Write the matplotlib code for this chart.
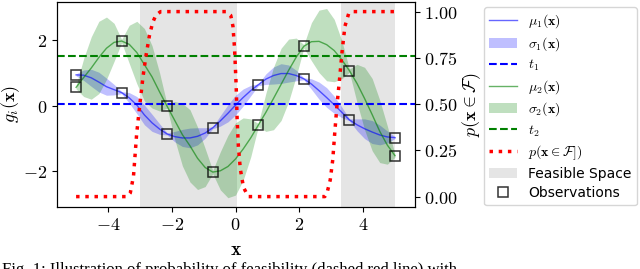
import numpy as np
import matplotlib
matplotlib.use("Agg")
import matplotlib.pyplot as plt
from matplotlib.ticker import FormatStrFormatter

plt.rcParams['mathtext.fontset'] = 'cm'

##############################################################################
# Data
##############################################################################

# sample grid (7 steps between two observations)
x = np.linspace(-5, 5, 43)

mu1 = [0.94, 0.93, 0.85, 0.72, 0.58, 0.49, 0.40,
       0.24, 0.02, -0.28, -0.52, -0.71, -0.86,
       -0.94, -0.98, -0.98, -0.93, -0.83, -0.67,
       -0.46, -0.23, 0.02, 0.25, 0.46, 0.64,
       0.81, 0.92, 0.98, 0.98, 0.92, 0.82,
       0.66, 0.46, 0.25, 0.03, -0.20, -0.43,
       -0.58, -0.70, -0.80, -0.89, -0.95, -0.97]
hw1 = [0.03, 0.16, 0.26, 0.30, 0.26, 0.16,
       0.03, 0.16, 0.26, 0.30, 0.26, 0.16,
       0.03, 0.16, 0.26, 0.30, 0.26, 0.16,
       0.03, 0.16, 0.26, 0.30, 0.26, 0.16,
       0.03, 0.16, 0.26, 0.30, 0.26, 0.16,
       0.03, 0.16, 0.26, 0.30, 0.26, 0.16,
       0.03, 0.18, 0.30, 0.35, 0.30, 0.18, 0.03]

mu2 = [0.56, 0.86, 1.15, 1.47, 1.75, 1.93, 1.97,
       1.87, 1.62, 1.25, 0.88, 0.42, -0.02,
       -0.45, -0.88, -1.22, -1.60, -1.88, -2.02,
       -1.98, -1.85, -1.62, -1.32, -0.98, -0.59,
       -0.20, 0.22, 0.65, 1.08, 1.48, 1.81,
       1.95, 1.96, 1.86, 1.68, 1.40, 1.07,
       0.68, 0.22, -0.27, -0.78, -1.20, -1.52]
hw2 = [0.05, 0.58, 0.95, 1.10, 0.95, 0.58,
       0.05, 0.58, 0.95, 1.10, 0.95, 0.58,
       0.05, 0.58, 0.95, 1.10, 0.95, 0.58,
       0.05, 0.58, 0.95, 1.10, 0.95, 0.58,
       0.05, 0.58, 0.95, 1.10, 0.95, 0.58,
       0.05, 0.58, 0.95, 1.10, 0.95, 0.58,
       0.05, 0.58, 0.95, 1.10, 0.95, 0.58, 0.05]

t1 = 0.05
t2 = 1.5

x_obs = [-5.0, -3.571, -2.143, -0.714, 0.714, 2.143, 3.571, 5.0]
g1_obs = [0.94, 0.40, -0.86, -0.67, 0.64, 0.82, -0.43, -0.97]
g2_obs = [0.56, 1.97, -0.02, -2.02, -0.59, 1.81, 1.07, -1.52]

# probability of feasibility
p_x = [-5.0, -3.4, -3.3, -3.2, -3.1, -3.0, -2.9, -2.8, -2.7, -2.6, -2.5, -2.35,
       -0.3, -0.15, -0.08, -0.03, 0.02, 0.05, 0.09, 0.15, 0.25, 0.4,
       2.8, 2.87, 2.97, 3.05, 3.11, 3.18, 3.26, 3.34, 3.43, 3.55, 3.7, 5.0]
p_y = [0.0, 0.0, 0.02, 0.11, 0.34, 0.5, 0.65, 0.77, 0.87, 0.94, 0.98, 1.0,
       1.0, 0.98, 0.92, 0.8, 0.6, 0.42, 0.27, 0.15, 0.05, 0.0,
       0.0, 0.02, 0.09, 0.2, 0.34, 0.49, 0.63, 0.78, 0.92, 0.99, 1.0, 1.0]

feasible = [(-3.0, 0.05), (3.3, 5.0)]

##############################################################################
# Plot
##############################################################################

fig, ax1 = plt.subplots(figsize=(6.4, 2.69), dpi=100)
fig.subplots_adjust(left=0.089, right=0.648, bottom=0.232, top=0.994)
ax2 = ax1.twinx()

mu1 = np.array(mu1)
mu2 = np.array(mu2)
hw1 = np.array(hw1)
hw2 = np.array(hw2)

for i, (a, b) in enumerate(feasible):
    h_feas = ax1.axvspan(a, b, color='grey', alpha=0.2, lw=0,
                         label="Feasible Space" if i == 0 else None)

h_mu1, = ax1.plot(x, mu1, color='blue', alpha=0.6, lw=1)
h_s1 = ax1.fill_between(x, mu1 - hw1, mu1 + hw1, color='blue', alpha=0.25, lw=0)
h_t1 = ax1.axhline(t1, color='blue', ls='--', lw=1.5)
h_mu2, = ax1.plot(x, mu2, color='green', alpha=0.6, lw=1)
h_s2 = ax1.fill_between(x, mu2 - hw2, mu2 + hw2, color='green', alpha=0.25, lw=0)
h_t2 = ax1.axhline(t2, color='green', ls='--', lw=1.5)

h_obs, = ax1.plot(x_obs, g1_obs, 's', mfc='none', mec='k', mew=1.1, ms=7, alpha=0.8)
ax1.plot(x_obs, g2_obs, 's', mfc='none', mec='k', mew=1.1, ms=7, alpha=0.8)

h_p, = ax2.plot(p_x, p_y, color='red', ls=':', lw=2.5)

ax1.set_xlim(-5.6, 5.62)
ax1.set_ylim(-3.07, 3.17)
ax2.set_ylim(-0.054, 1.054)
ax1.set_xticks([-4, -2, 0, 2, 4])
ax1.set_yticks([-2, 0, 2])
ax2.set_yticks([0, 0.25, 0.5, 0.75, 1.0])
ax1.xaxis.set_major_formatter(FormatStrFormatter('$%g$'))
ax1.yaxis.set_major_formatter(FormatStrFormatter('$%g$'))
ax2.yaxis.set_major_formatter(FormatStrFormatter('$%.2f$'))
ax1.tick_params(labelsize=13)
ax2.tick_params(labelsize=13)

ax1.set_xlabel(r'$\mathbf{x}$', fontsize=14)
ax1.set_ylabel(r'$g_i(\mathbf{x})$', fontsize=13, labelpad=1)
ax2.set_ylabel(r'$p(\mathbf{x} \in \mathcal{F})$', fontsize=13, labelpad=2)

handles = [h_mu1, h_s1, h_t1, h_mu2, h_s2, h_t2, h_p, h_feas, h_obs]
labels = [r'$\mu_1(\mathbf{x})$', r'$\sigma_1(\mathbf{x})$', r'$t_1$',
          r'$\mu_2(\mathbf{x})$', r'$\sigma_2(\mathbf{x})$', r'$t_2$',
          r'$p(\mathbf{x} \in \mathcal{F}])$', "Feasible Space", "Observations"]
fig.legend(handles, labels, loc='upper left', bbox_to_anchor=(0.745, 1.0),
           fontsize=10, numpoints=1, labelspacing=0.35)

fig.text(0.003, -0.018,
         "Fig. 1: Illustration of probability of feasibility (dashed red line) with",
         family='Liberation Serif', fontsize=12, va='baseline')

fig.savefig("out.png", dpi=100)
